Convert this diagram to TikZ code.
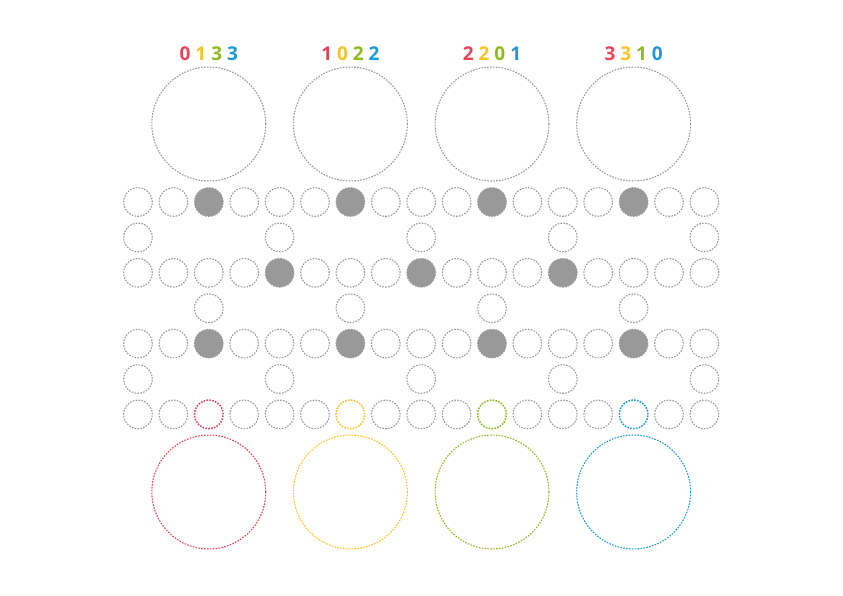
\documentclass[tikz,border=0pt]{standalone}
\usepackage{fontspec}
\setmainfont{Open Sans}
\definecolor{cred}{HTML}{E8435A}
\definecolor{cyel}{HTML}{F7C325}
\definecolor{cgrn}{HTML}{8DBA1E}
\definecolor{cblu}{HTML}{1A9AD6}
\definecolor{cgry}{HTML}{999999}
\tikzset{
  dot/.style={circle,inner sep=0pt,minimum size=28.6pt,draw=cgry,line width=1.1pt,dash pattern=on 1.6pt off 1.3pt},
  full/.style={circle,inner sep=0pt,minimum size=28.6pt,fill=cgry},
  big/.style={circle,inner sep=0pt,minimum size=114pt,draw=cgry,line width=1.1pt,dash pattern=on 1.6pt off 1.3pt},
  lbl/.style={font=\fontsize{19}{20}\selectfont\bfseries,inner sep=0pt},
}
\begin{document}
\begin{tikzpicture}[x=1pt,y=-1pt]
\useasboundingbox (0,0) rectangle (843,596);
% full rows
\foreach \r/\y in {a/202,c/272.8,e/343.6,g/414.4}{
  \foreach \i in {0,...,16}{
    \node[dot] (\r\i) at ({138+35.4*\i},\y) {};
  }
}
% filled
\foreach \i in {2,6,10,14}{
  \node[full] (a\i) at ({138+35.4*\i},202) {};
  \node[full] (e\i) at ({138+35.4*\i},343.6) {};
}
\foreach \i in {4,8,12}{
  \node[full] (c\i) at ({138+35.4*\i},272.8) {};
}
% sparse rows
\foreach \i in {0,4,8,12,16}{
  \node[dot] (b\i) at ({138+35.4*\i},237.4) {};
  \node[dot] (f\i) at ({138+35.4*\i},379) {};
}
\foreach \i in {2,6,10,14}{
  \node[dot] (d\i) at ({138+35.4*\i},308.2) {};
}
% coloured bottom-row circles and big circles
\foreach \i/\c in {2/cred,6/cyel,10/cgrn,14/cblu}{
  \node[circle,inner sep=0pt,minimum size=30pt,fill=white] at ({138+35.4*\i},414.4) {};
  \node[dot,draw=\c,line width=1.5pt] (g\i) at ({138+35.4*\i},414.4) {};
  \node[big] (T\i) at ({138+35.4*\i},124) {};
  \node[big,draw=\c] (B\i) at ({138+35.4*\i},492) {};
}
% labels
\node[lbl] (L2) at ({138+35.4*2},54) {\textcolor{cred}{0} \textcolor{cyel}{1} \textcolor{cgrn}{3} \textcolor{cblu}{3}};
\node[lbl] (L6) at ({138+35.4*6},54) {\textcolor{cred}{1} \textcolor{cyel}{0} \textcolor{cgrn}{2} \textcolor{cblu}{2}};
\node[lbl] (L10) at ({138+35.4*10},54) {\textcolor{cred}{2} \textcolor{cyel}{2} \textcolor{cgrn}{0} \textcolor{cblu}{1}};
\node[lbl] (L14) at ({138+35.4*14},54) {\textcolor{cred}{3} \textcolor{cyel}{3} \textcolor{cgrn}{1} \textcolor{cblu}{0}};
\end{tikzpicture}
\end{document}
